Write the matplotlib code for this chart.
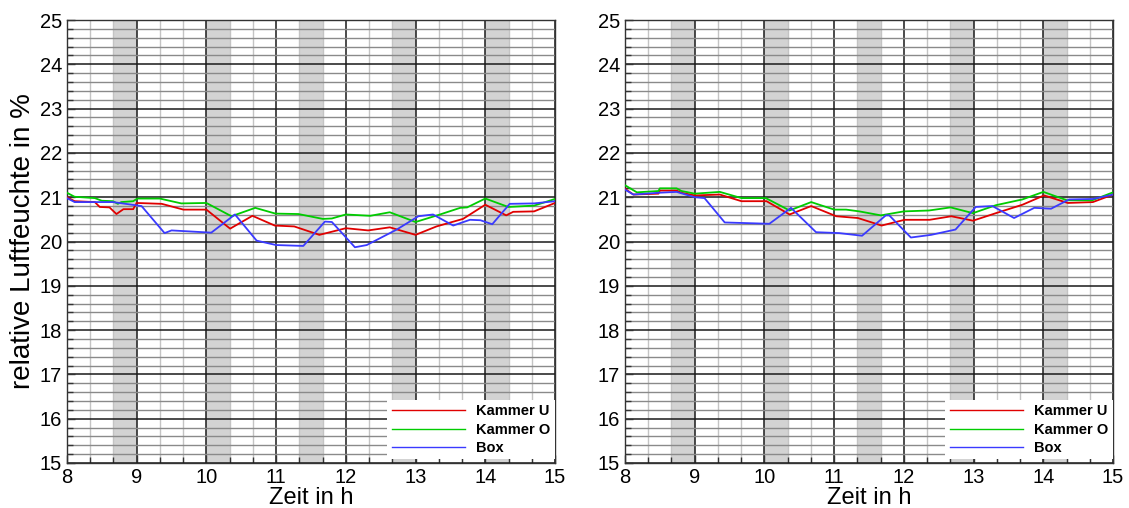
import matplotlib
matplotlib.use("Agg")
import matplotlib.pyplot as plt
from matplotlib.ticker import MultipleLocator

plt.rcParams['font.family'] = ['Liberation Sans', 'DejaVu Sans']

# shaded time windows (h)
shade_windows = [(8.667, 9.0), (10.0, 10.333), (11.333, 11.667), (12.667, 13.0), (14.0, 14.333)]

# left panel
left_u_t = [8.0, 8.11, 8.4, 8.47, 8.61, 8.71, 8.81, 8.95, 9.0, 9.36, 9.67, 10.0, 10.34, 10.66, 10.98,
            11.26, 11.62, 12.0, 12.32, 12.63, 13.0, 13.3, 13.68, 14.0, 14.3, 14.4, 14.7, 15.0]
left_u = [21.0, 20.91, 20.89, 20.78, 20.77, 20.62, 20.73, 20.73, 20.87, 20.85, 20.72, 20.72, 20.29, 20.58, 20.36,
          20.34, 20.15, 20.30, 20.25, 20.32, 20.15, 20.34, 20.51, 20.83, 20.59, 20.67, 20.68, 20.87]

left_o_t = [8.0, 8.11, 8.4, 8.5, 8.66, 8.73, 8.78, 8.95, 9.01, 9.33, 9.64, 10.0, 10.36, 10.7, 10.99,
            11.32, 11.67, 11.8, 12.0, 12.35, 12.63, 13.0, 13.35, 13.64, 13.74, 14.0, 14.33, 14.7, 15.0]
left_o = [21.10, 21.01, 20.98, 20.92, 20.91, 20.85, 20.89, 20.91, 20.97, 20.97, 20.86, 20.87, 20.57, 20.76, 20.63,
          20.62, 20.51, 20.52, 20.61, 20.58, 20.66, 20.44, 20.61, 20.76, 20.77, 20.97, 20.78, 20.81, 20.96]

left_box_t = [8.0, 8.11, 8.25, 8.66, 9.07, 9.4, 9.5, 10.07, 10.41, 10.72, 11.0, 11.39, 11.7, 11.8,
              12.13, 12.3, 12.73, 13.04, 13.25, 13.54, 13.78, 13.93, 14.1, 14.35, 14.7, 15.0]
left_box = [20.98, 20.89, 20.89, 20.89, 20.80, 20.19, 20.25, 20.20, 20.61, 20.02, 19.92, 19.90, 20.45, 20.44,
            19.87, 19.92, 20.27, 20.57, 20.61, 20.36, 20.49, 20.48, 20.39, 20.85, 20.86, 20.91]

# right panel
right_u_t = [8.0, 8.12, 8.48, 8.5, 8.74, 8.81, 9.0, 9.36, 9.67, 10.03, 10.36, 10.67, 11.03, 11.34, 11.68,
             12.01, 12.37, 12.68, 12.99, 13.32, 13.7, 14.01, 14.35, 14.71, 15.0]
right_u = [21.19, 21.06, 21.08, 21.15, 21.15, 21.10, 21.04, 21.06, 20.91, 20.91, 20.61, 20.80, 20.57, 20.53, 20.36,
           20.49, 20.49, 20.57, 20.47, 20.64, 20.83, 21.04, 20.87, 20.89, 21.06]

right_o_t = [8.0, 8.17, 8.48, 8.5, 8.74, 8.81, 9.0, 9.36, 9.67, 10.02, 10.36, 10.67, 11.0, 11.17, 11.36,
             11.67, 12.0, 12.36, 12.67, 12.99, 13.32, 13.7, 14.0, 14.34, 14.7, 15.0]
right_o = [21.27, 21.11, 21.14, 21.20, 21.20, 21.14, 21.08, 21.12, 20.98, 20.98, 20.70, 20.89, 20.72, 20.72, 20.68,
           20.59, 20.68, 20.70, 20.77, 20.64, 20.82, 20.95, 21.12, 20.93, 20.93, 21.11]

right_box_t = [8.0, 8.12, 8.48, 8.74, 9.0, 9.14, 9.43, 10.07, 10.38, 10.74, 11.07, 11.4, 11.74, 11.79,
               12.1, 12.39, 12.74, 13.03, 13.27, 13.58, 13.87, 14.11, 14.37, 14.71, 15.0]
right_box = [21.17, 21.06, 21.10, 21.12, 21.0, 20.98, 20.43, 20.40, 20.76, 20.21, 20.19, 20.13, 20.59, 20.59,
             20.09, 20.15, 20.27, 20.78, 20.80, 20.53, 20.76, 20.74, 20.95, 20.96, 21.06]

labels = ["Kammer U", "Kammer O", "Box"]
colors = ["#e00000", "#00cc00", "#3a3aff"]

panels = [
    ([left_u_t, left_o_t, left_box_t], [left_u, left_o, left_box]),
    ([right_u_t, right_o_t, right_box_t], [right_u, right_o, right_box]),
]

fig = plt.figure(figsize=(11.29, 5.08), dpi=100)
ax_left = fig.add_axes([0.0593, 0.0886, 0.4323, 0.872])
ax_right = fig.add_axes([0.5536, 0.0886, 0.4323, 0.872])

for ax, (times, values) in zip([ax_left, ax_right], panels):
    # grey time windows
    for a, b in shade_windows:
        ax.axvspan(a, b, color="#d3d3d3", lw=0, zorder=0.2)

    for t, v, c, lab in zip(times, values, colors, labels):
        ax.plot(t, v, color=c, lw=1.3, label=lab, zorder=3)

    ax.set_xlim(8, 15)
    ax.set_ylim(15, 25)
    ax.xaxis.set_major_locator(MultipleLocator(1))
    ax.xaxis.set_minor_locator(MultipleLocator(1 / 3))
    ax.yaxis.set_major_locator(MultipleLocator(1))
    ax.yaxis.set_minor_locator(MultipleLocator(0.2))

    ax.set_axisbelow(True)
    ax.grid(which="major", color="#1a1a1a", lw=1.1)
    ax.xaxis.grid(True, which="minor", color="#c4c4c4", lw=1.0)
    ax.yaxis.grid(True, which="minor", color="#8a8a8a", lw=1.0)

    ax.tick_params(which="both", direction="in", labelsize=14.5, color="#333333")
    ax.tick_params(which="major", length=6, width=1)
    ax.tick_params(which="minor", length=4, width=1)
    for s in ax.spines.values():
        s.set_color("#333333")
        s.set_linewidth(1.0)

    ax.set_xlabel("Zeit in h", fontsize=17, labelpad=0)

    leg = ax.legend(loc="lower right", bbox_to_anchor=(1.0, 0.008),
                    prop={"weight": "bold", "size": 10.5}, frameon=True, fancybox=False,
                    framealpha=1, edgecolor="none", facecolor="white",
                    handlelength=5.0, handletextpad=0.8, labelspacing=0.3,
                    borderpad=0.3, borderaxespad=0.0)
    for line in leg.get_lines():
        line.set_linewidth(1.0)
    leg.set_zorder(5)

ax_left.set_ylabel("relative Luftfeuchte in %", fontsize=20, labelpad=3)

fig.savefig("out.png", dpi=100)
